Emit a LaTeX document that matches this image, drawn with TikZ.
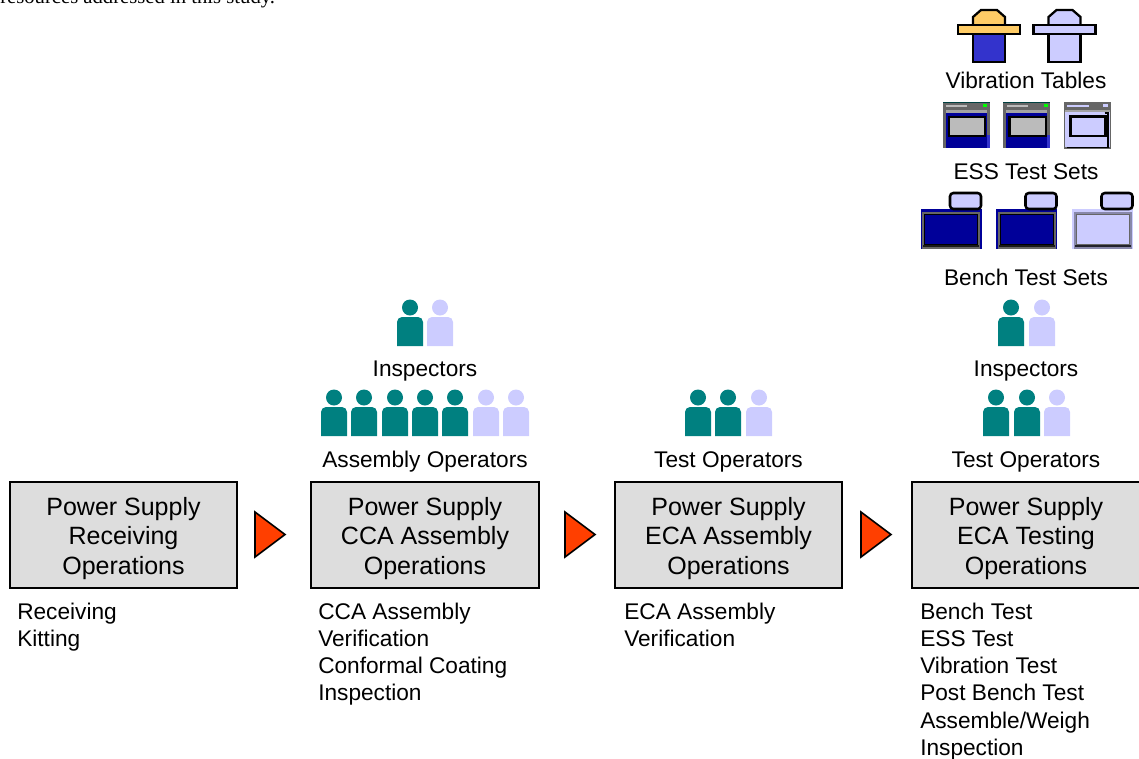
\documentclass[tikz,border=0pt]{standalone}
\usepackage{fontspec}
\setmainfont{Liberation Sans}
\newfontfamily\serifx{Liberation Serif}
\newcommand{\bigtxt}{\fontsize{18.75pt}{22.4pt}\selectfont}
\newcommand{\smalltxt}{\fontsize{17pt}{20.4pt}\selectfont}
\newcommand{\firstline}{\rule{0pt}{19.5pt}}
\definecolor{teal1}{HTML}{008080}
\definecolor{lav}{HTML}{CCCCFF}
\definecolor{boxgray}{HTML}{DDDDDD}
\definecolor{redo}{HTML}{FF3F00}
\definecolor{navy1}{HTML}{000099}
\definecolor{bluev}{HTML}{3333CC}
\definecolor{gold}{HTML}{FFCC66}
\definecolor{gr1}{HTML}{666666}
\definecolor{gr2}{HTML}{8888AA}
\definecolor{scr}{HTML}{BBBBBB}
\tikzset{
  x=0.75pt,y=-0.75pt,
  opbox/.style={draw=black,line width=1.5pt,fill=boxgray,minimum width=170.5pt,minimum height=79.5pt,inner sep=0pt,align=center,font=\bigtxt},
  lbl/.style={inner sep=0pt,font=\smalltxt,anchor=base},
  lst/.style={inner sep=0pt,font=\smalltxt,align=left,anchor=north west},
  tri/.style={draw=black,line width=1.2pt,fill=redo,line join=miter},
  pics/person/.style={code={
    \fill[#1] (0,-20.5) circle (8);
    \fill[#1] (-13,18) -- (-13,-6) arc (180:270:5) -- (8,-11) arc (-90:0:5) -- (13,18) -- cycle;
  }},
  pics/vibe/.style n args={2}{code={
    \draw[black,line width=1.7pt,fill=#1,line join=miter] (-16,-10) -- (-16,-20) -- (-8,-27) -- (8,-27) -- (16,-20) -- (16,-10);
    \draw[black,line width=1.7pt,fill=#2] (-16,-4) rectangle (16,25);
    \draw[black,line width=1.7pt,fill=#1] (-31,-12) rectangle (31,-3);
  }},
  pics/esssolid/.style={code={
    \fill[navy1] (-23.5,-23) rectangle (23.5,23);
    \fill[gr1] (-23.5,-23) rectangle (23.5,-15);
    \fill[gr1!60!white] (-23.5,-15) rectangle (23.5,-12);
    \fill[teal1!50!black] (-23.5,-23) rectangle (23.5,-22);
    \fill[scr] (-20,-20) rectangle (1,-18);
    \fill[green] (17,-21) rectangle (21,-18);
    \fill[gr1] (-23.5,-15) rectangle (-20.5,23);
    \fill[gr1] (20.5,-15) rectangle (23.5,10);
    \fill[bluev] (20.5,10) rectangle (23.5,23);
    \draw[black,line width=1.9pt] (-17,-8) rectangle (19,11);
    \fill[scr] (-16,-7) rectangle (18,10);
  }},
  pics/esslight/.style={code={
    \fill[lav] (-23.5,-23) rectangle (23.5,23);
    \fill[gr1] (-23.5,-23) rectangle (23.5,-16);
    \fill[gr1!60!white] (-23.5,-16) rectangle (23.5,-13);
    \fill[lav] (-21,-20) rectangle (1,-18);
    \fill[lav] (15,-21) rectangle (20,-18);
    \draw[gr1,line width=0.8pt] (-23,-16) rectangle (23,23);
    \draw[black,line width=0.8pt] (17,-12) -- (20.5,-12) -- (20.5,22.5) -- (-21,22.5);
    \draw[black,line width=1.9pt] (-17,-8.5) rectangle (18,11);
  }},
  pics/bench/.style n args={3}{code={
    \fill[#1] (-30.5,-12) rectangle (30.5,28);
    \fill[#3] (-29,-9.5) rectangle (29,28);
    \fill[#1] (-26.5,-7) rectangle (26.5,23.5);
    \draw[#2,line width=0.6pt] (-26.5,-7) rectangle (26.5,23.5);
    \fill[black!75!#3] (-28,24) rectangle (28,26);
    \draw[black,line width=1.9pt,rounded corners=2.5pt,fill=lav] (-1,-28) rectangle (30,-12);
  }},
}
\begin{document}
\begin{tikzpicture}
\useasboundingbox (0,0) rectangle (1139,758);
\clip (0,0) rectangle (1139,758);
% clipped paragraph tail
\node[inner sep=0pt,anchor=base west,font=\serifx\fontsize{15.5pt}{18pt}\selectfont] (cap) at (0,3) {resources addressed in this study.};
% process boxes
\node[opbox] (b1) at (123.5,534.5) {\firstline Power Supply\\Receiving\\Operations};
\node[opbox] (b2) at (425,534.5) {\firstline Power Supply\\CCA Assembly\\Operations};
\node[opbox] (b3) at (728.5,534.5) {\firstline Power Supply\\ECA Assembly\\Operations};
\node[opbox] (b4) at (1026,534.5) {\firstline Power Supply\\ECA Testing\\Operations};
% triangles
\draw[tri] (255,512) -- (285,534.5) -- (255,557) -- cycle;
\draw[tri] (565,512) -- (595,534.5) -- (565,557) -- cycle;
\draw[tri] (861,512) -- (891,534.5) -- (861,557) -- cycle;
% lists
\node[lst] (l1) at (17,602.5) {Receiving\\Kitting};
\node[lst] (l2) at (318,602.5) {CCA Assembly\\Verification\\Conformal Coating\\Inspection};
\node[lst] (l3) at (624,602.5) {ECA Assembly\\Verification};
\node[lst] (l4) at (920,602.5) {Bench Test\\ESS Test\\Vibration Test\\Post Bench Test\\Assemble/Weigh\\Inspection};
% labels
\node[lbl] (t2) at (425,467) {Assembly Operators};
\node[lbl] (t3) at (728.5,467) {Test Operators};
\node[lbl] (t4) at (1026,467) {Test Operators};
\node[lbl] (t5) at (425,376) {Inspectors};
\node[lbl] (t6) at (1026,376) {Inspectors};
\node[lbl] (t7) at (1026,285) {Bench Test Sets};
\node[lbl] (t8) at (1026,179) {ESS Test Sets};
\node[lbl] (t9) at (1026,88) {Vibration Tables};
% people
\foreach \x in {334,364,395,425,455} \pic at (\x,418) {person=teal1};
\foreach \x in {486,516} \pic at (\x,418) {person=lav};
\pic at (410,328) {person=teal1};
\pic at (440,328) {person=lav};
\foreach \x in {698,728} \pic at (\x,418) {person=teal1};
\pic at (759,418) {person=lav};
\foreach \x in {996,1027} \pic at (\x,418) {person=teal1};
\pic at (1057,418) {person=lav};
\pic at (1011,328) {person=teal1};
\pic at (1042,328) {person=lav};
% equipment
\pic at (989,37) {vibe={gold}{bluev}};
\pic at (1064.5,37) {vibe={lav}{lav}};
\pic at (966,125) {esssolid};
\pic at (1026.5,125) {esssolid};
\pic at (1087.5,125) {esslight};
\pic at (951,221) {bench={navy1}{black}{gr1}};
\pic at (1026.5,221) {bench={navy1}{black}{gr1}};
\pic at (1102.5,221) {bench={lav}{gr1}{gr2}};
\end{tikzpicture}
\end{document}
